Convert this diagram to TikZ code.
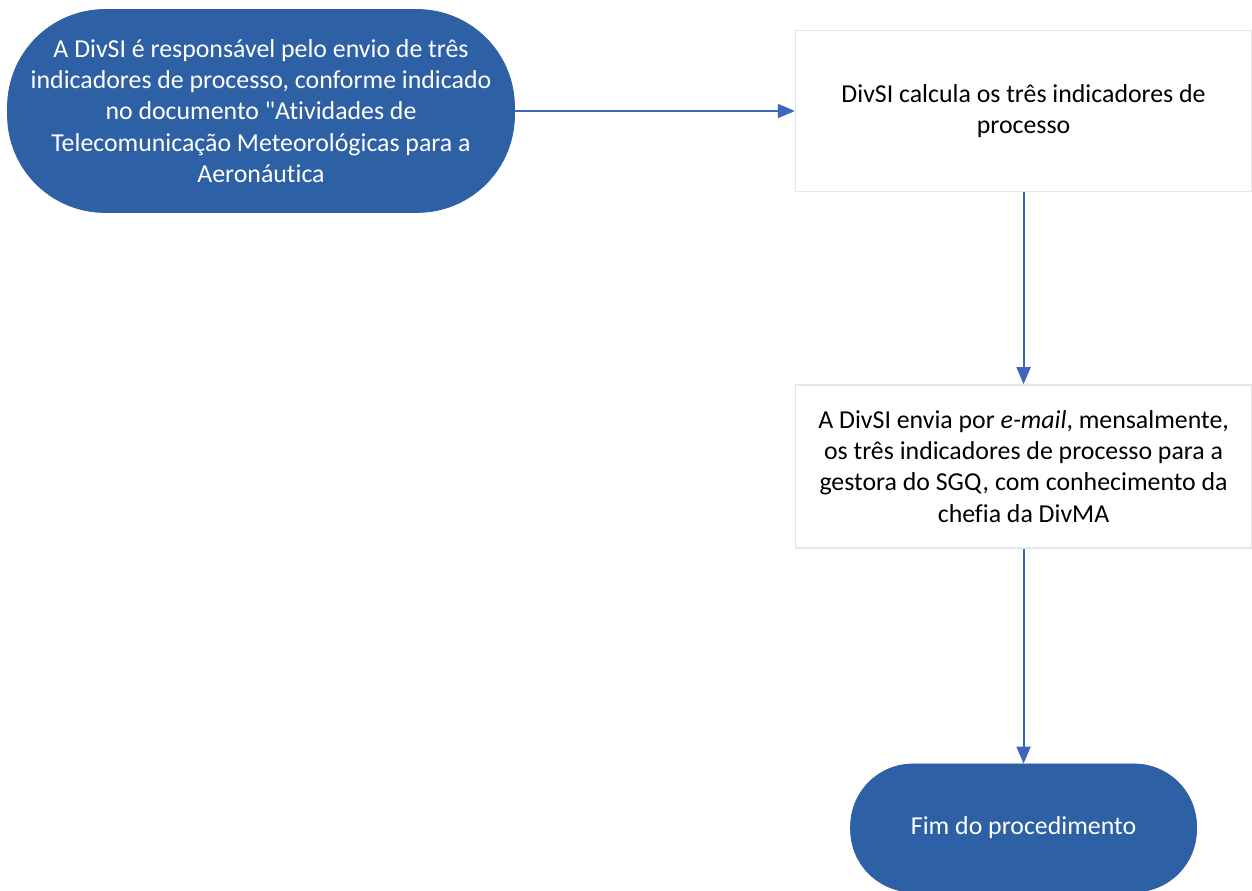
\documentclass[tikz,border=0pt]{standalone}
\usepackage{fontspec}
\setmainfont{Carlito}[Ligatures={TeX,NoCommon}]
\usepackage{xcolor}
\usepackage{tikz}
\usetikzlibrary{arrows.meta,positioning}

\definecolor{termblue}{RGB}{45,96,164}
\definecolor{arrowblue}{RGB}{62,102,190}
\definecolor{boxgray}{RGB}{228,230,234}

\begin{document}
\begin{tikzpicture}[
			every node/.style={font=\fontsize{14.7}{17.8}\selectfont},
			term/.style={
				fill=termblue,
				draw=termblue,
				text=white,
				align=center,
				inner sep=0pt
			},
			procbox/.style={
				draw=boxgray,
				line width=0.8pt,
				fill=white,
				align=center,
				minimum width=9.12cm
			},
			arrow/.style={-{Triangle[length=3.4mm,width=2.8mm]}, line width=1.1pt, arrowblue}
			]
			
			\useasboundingbox (0,0) rectangle (25.04,17.82);
			
			% ---- Nodes ----
			\node[term, rounded corners=1.95cm, minimum width=10.14cm, minimum height=4.06cm] (start) at (5.22,15.6)
			{A DivSI é responsável pelo envio de três\\
				indicadores de processo, conforme indicado\\
				no documento \textquotedbl Atividades de\\
				Telecomunicação Meteorológicas para a\\
				Aeronáutica};
			\node[procbox, minimum height=3.22cm, right=5.6cm of start] (calc)
			{DivSI calcula os três indicadores de\\processo};
			\node[procbox, minimum height=3.26cm, below=3.84cm of calc] (send)
			{A DivSI envia por \emph{e-mail}, mensalmente,\\
				os três indicadores de processo para a\\
				gestora do SGQ, com conhecimento da\\
				chefia da DivMA};
			\node[term, rounded corners=1.25cm, minimum width=6.92cm, minimum height=2.56cm, below=4.3cm of send] (fim)
			{Fim do procedimento};
			
			% ---- Arrows ----
			\draw[arrow] (start) -- (calc);
			\draw[arrow] (calc) -- (send);
			\draw[arrow] (send) -- (fim);
			
		\end{tikzpicture}
\end{document}
